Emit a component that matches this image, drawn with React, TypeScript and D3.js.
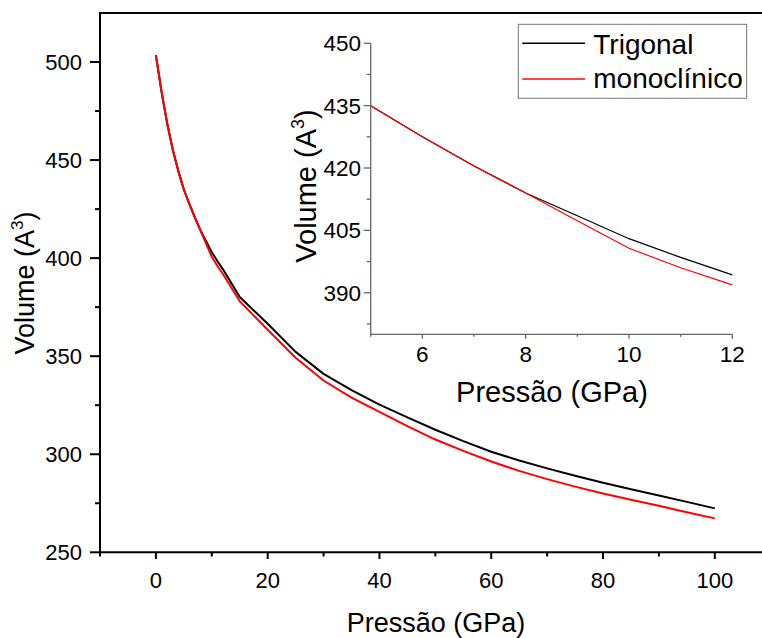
import React from 'react'
import * as d3 from 'd3'

// pressão (GPa) e volumes (A^3) das duas fases
const pressure = [0, 1, 2, 3, 4, 5, 6, 7, 8, 9, 10, 11, 12, 15, 20, 25, 30, 35, 40, 45, 50, 55, 60, 65, 70, 75, 80, 85, 90, 95, 100]
const trigonal = [503.5, 485, 469, 455.5, 444.5, 435, 427.5, 420.5, 414, 408.5, 403, 398.5, 394.3, 380.2, 366.5, 352.2, 341, 332.7, 325.3, 318.8, 312.5, 306.7, 301.3, 296.8, 292.8, 289, 285.5, 282.2, 279, 275.7, 272.4]
const monoclinico = [503.5, 485, 469, 455.5, 444.5, 435, 427.5, 420.5, 414, 407.3, 400.7, 396, 391.9, 378, 363.5, 349.2, 337.6, 328.9, 321.6, 314.3, 307.5, 301.7, 296.3, 291.5, 287.3, 283.5, 280, 276.8, 273.7, 270.4, 267.3]

const seriesNames = ['Trigonal', 'monoclínico']
const seriesColors = ['#000000', '#ff0000']

const mainXTicks = [0, 20, 40, 60, 80, 100]
const mainXMinor = [-10, 10, 30, 50, 70, 90]
const mainYTicks = [250, 300, 350, 400, 450, 500]
const mainYMinor = [275, 325, 375, 425, 475]
const insetXTicks = [6, 8, 10, 12]
const insetXMinor = [5, 7, 9, 11]
const insetYTicks = [390, 405, 420, 435, 450]
const insetYMinor = [382.5, 397.5, 412.5, 427.5, 442.5]

const FONT = '"Liberation Sans", Arial, sans-serif'

export default function App() {
  const W = 762, H = 638

  // gráfico principal
  const x = d3.scaleLinear().domain([-10, 110]).range([100, 770.7])
  const y = d3.scaleLinear().domain([250, 525]).range([552.3, 13])

  // inset
  const xi = d3.scaleLinear().domain([5, 12]).range([370.7, 732.3])
  const yi = d3.scaleLinear().domain([380, 450]).range([334.3, 43.3])

  const series = [trigonal, monoclinico].map((vals, k) => ({
    name: seriesNames[k],
    color: seriesColors[k],
    pts: pressure.map((p, i) => ({ p, v: vals[i] })),
  }))

  const line = d3.line<{ p: number; v: number }>().x(d => x(d.p)).y(d => y(d.v))
  const lineInset = d3.line<{ p: number; v: number }>().x(d => xi(d.p)).y(d => yi(d.v))

  const insetGray = '#666'

  return (
    <svg width={W} height={H} style={{ position: 'absolute', left: 0, top: 0, background: '#fff' }} fontFamily={FONT}>
      <defs>
        <clipPath id="insetClip">
          <rect x={xi(5)} y={yi(450) - 2} width={xi(12) - xi(5)} height={yi(380) - yi(450) + 2} />
        </clipPath>
      </defs>

      {/* curvas principais */}
      {series.map(s => (
        <path key={s.name} d={line(s.pts) || ''} fill="none" stroke={s.color} strokeWidth={2} strokeLinejoin="round" />
      ))}

      {/* eixos principais */}
      <line x1={100} x2={W} y1={13} y2={13} stroke="#000" strokeWidth={2} />
      <line x1={100} x2={100} y1={12} y2={553.3} stroke="#000" strokeWidth={2} />
      <line x1={99} x2={W} y1={552.3} y2={552.3} stroke="#000" strokeWidth={2} />

      {mainYTicks.map(t => (
        <g key={'my' + t}>
          <line x1={90} x2={100} y1={y(t)} y2={y(t)} stroke="#000" strokeWidth={2} />
          <text x={82} y={y(t) + 8} fontSize={22} textAnchor="end">{t}</text>
        </g>
      ))}
      {mainYMinor.map(t => (
        <line key={'mym' + t} x1={95} x2={100} y1={y(t)} y2={y(t)} stroke="#000" strokeWidth={2} />
      ))}
      {mainXTicks.map(t => (
        <g key={'mx' + t}>
          <line x1={x(t)} x2={x(t)} y1={552.3} y2={559} stroke="#000" strokeWidth={2} />
          <text x={x(t)} y={588} fontSize={22} textAnchor="middle">{t}</text>
        </g>
      ))}
      {mainXMinor.map(t => (
        <line key={'mxm' + t} x1={x(t)} x2={x(t)} y1={552.3} y2={556.5} stroke="#000" strokeWidth={2} />
      ))}

      <text x={436} y={632} fontSize={27} textAnchor="middle">Pressão (GPa)</text>
      <text transform="translate(34,283) rotate(-90)" fontSize={27} textAnchor="middle">
        Volume (A<tspan fontSize={17} dy={-11}>3</tspan><tspan dy={11}>)</tspan>
      </text>

      {/* inset */}
      <g clipPath="url(#insetClip)">
        {series.map(s => (
          <path key={'i' + s.name} d={lineInset(s.pts) || ''} fill="none" stroke={s.color} strokeWidth={1.2} />
        ))}
      </g>
      <line x1={xi(5)} x2={xi(5)} y1={yi(450)} y2={yi(380)} stroke={insetGray} strokeWidth={1.3} />
      <line x1={xi(5)} x2={xi(12)} y1={yi(380)} y2={yi(380)} stroke={insetGray} strokeWidth={1.3} />
      {insetYTicks.map(t => (
        <g key={'iy' + t}>
          <line x1={xi(5) - 7} x2={xi(5)} y1={yi(t)} y2={yi(t)} stroke={insetGray} strokeWidth={1.3} />
          <text x={361} y={yi(t) + 8} fontSize={22.5} textAnchor="end">{t}</text>
        </g>
      ))}
      {insetYMinor.map(t => (
        <line key={'iym' + t} x1={xi(5) - 4} x2={xi(5)} y1={yi(t)} y2={yi(t)} stroke={insetGray} strokeWidth={1.3} />
      ))}
      {insetXTicks.map(t => (
        <g key={'ix' + t}>
          <line x1={xi(t)} x2={xi(t)} y1={yi(380)} y2={yi(380) + 4.5} stroke={insetGray} strokeWidth={1.3} />
          <text x={xi(t)} y={361.7} fontSize={22.5} textAnchor="middle">{t}</text>
        </g>
      ))}
      {insetXMinor.map(t => (
        <line key={'ixm' + t} x1={xi(t)} x2={xi(t)} y1={yi(380)} y2={yi(380) + 2.5} stroke={insetGray} strokeWidth={1.3} />
      ))}
      <text x={552} y={402} fontSize={29} textAnchor="middle">Pressão (GPa)</text>
      <text transform="translate(316,186) rotate(-90)" fontSize={29} textAnchor="middle">
        Volume (A<tspan fontSize={18} dy={-12}>3</tspan><tspan dy={12}>)</tspan>
      </text>

      {/* legenda */}
      <rect x={518.3} y={24.3} width={228.4} height={74} fill="#fff" stroke="#777" strokeWidth={1} />
      {series.map((s, i) => (
        <g key={'lg' + s.name}>
          <line x1={522.3} x2={585} y1={43.3 + i * 35.7} y2={43.3 + i * 35.7} stroke={s.color} strokeWidth={1.5} />
          <text x={593.3} y={54 + i * 34.3} fontSize={28}>{s.name}</text>
        </g>
      ))}
    </svg>
  )
}
